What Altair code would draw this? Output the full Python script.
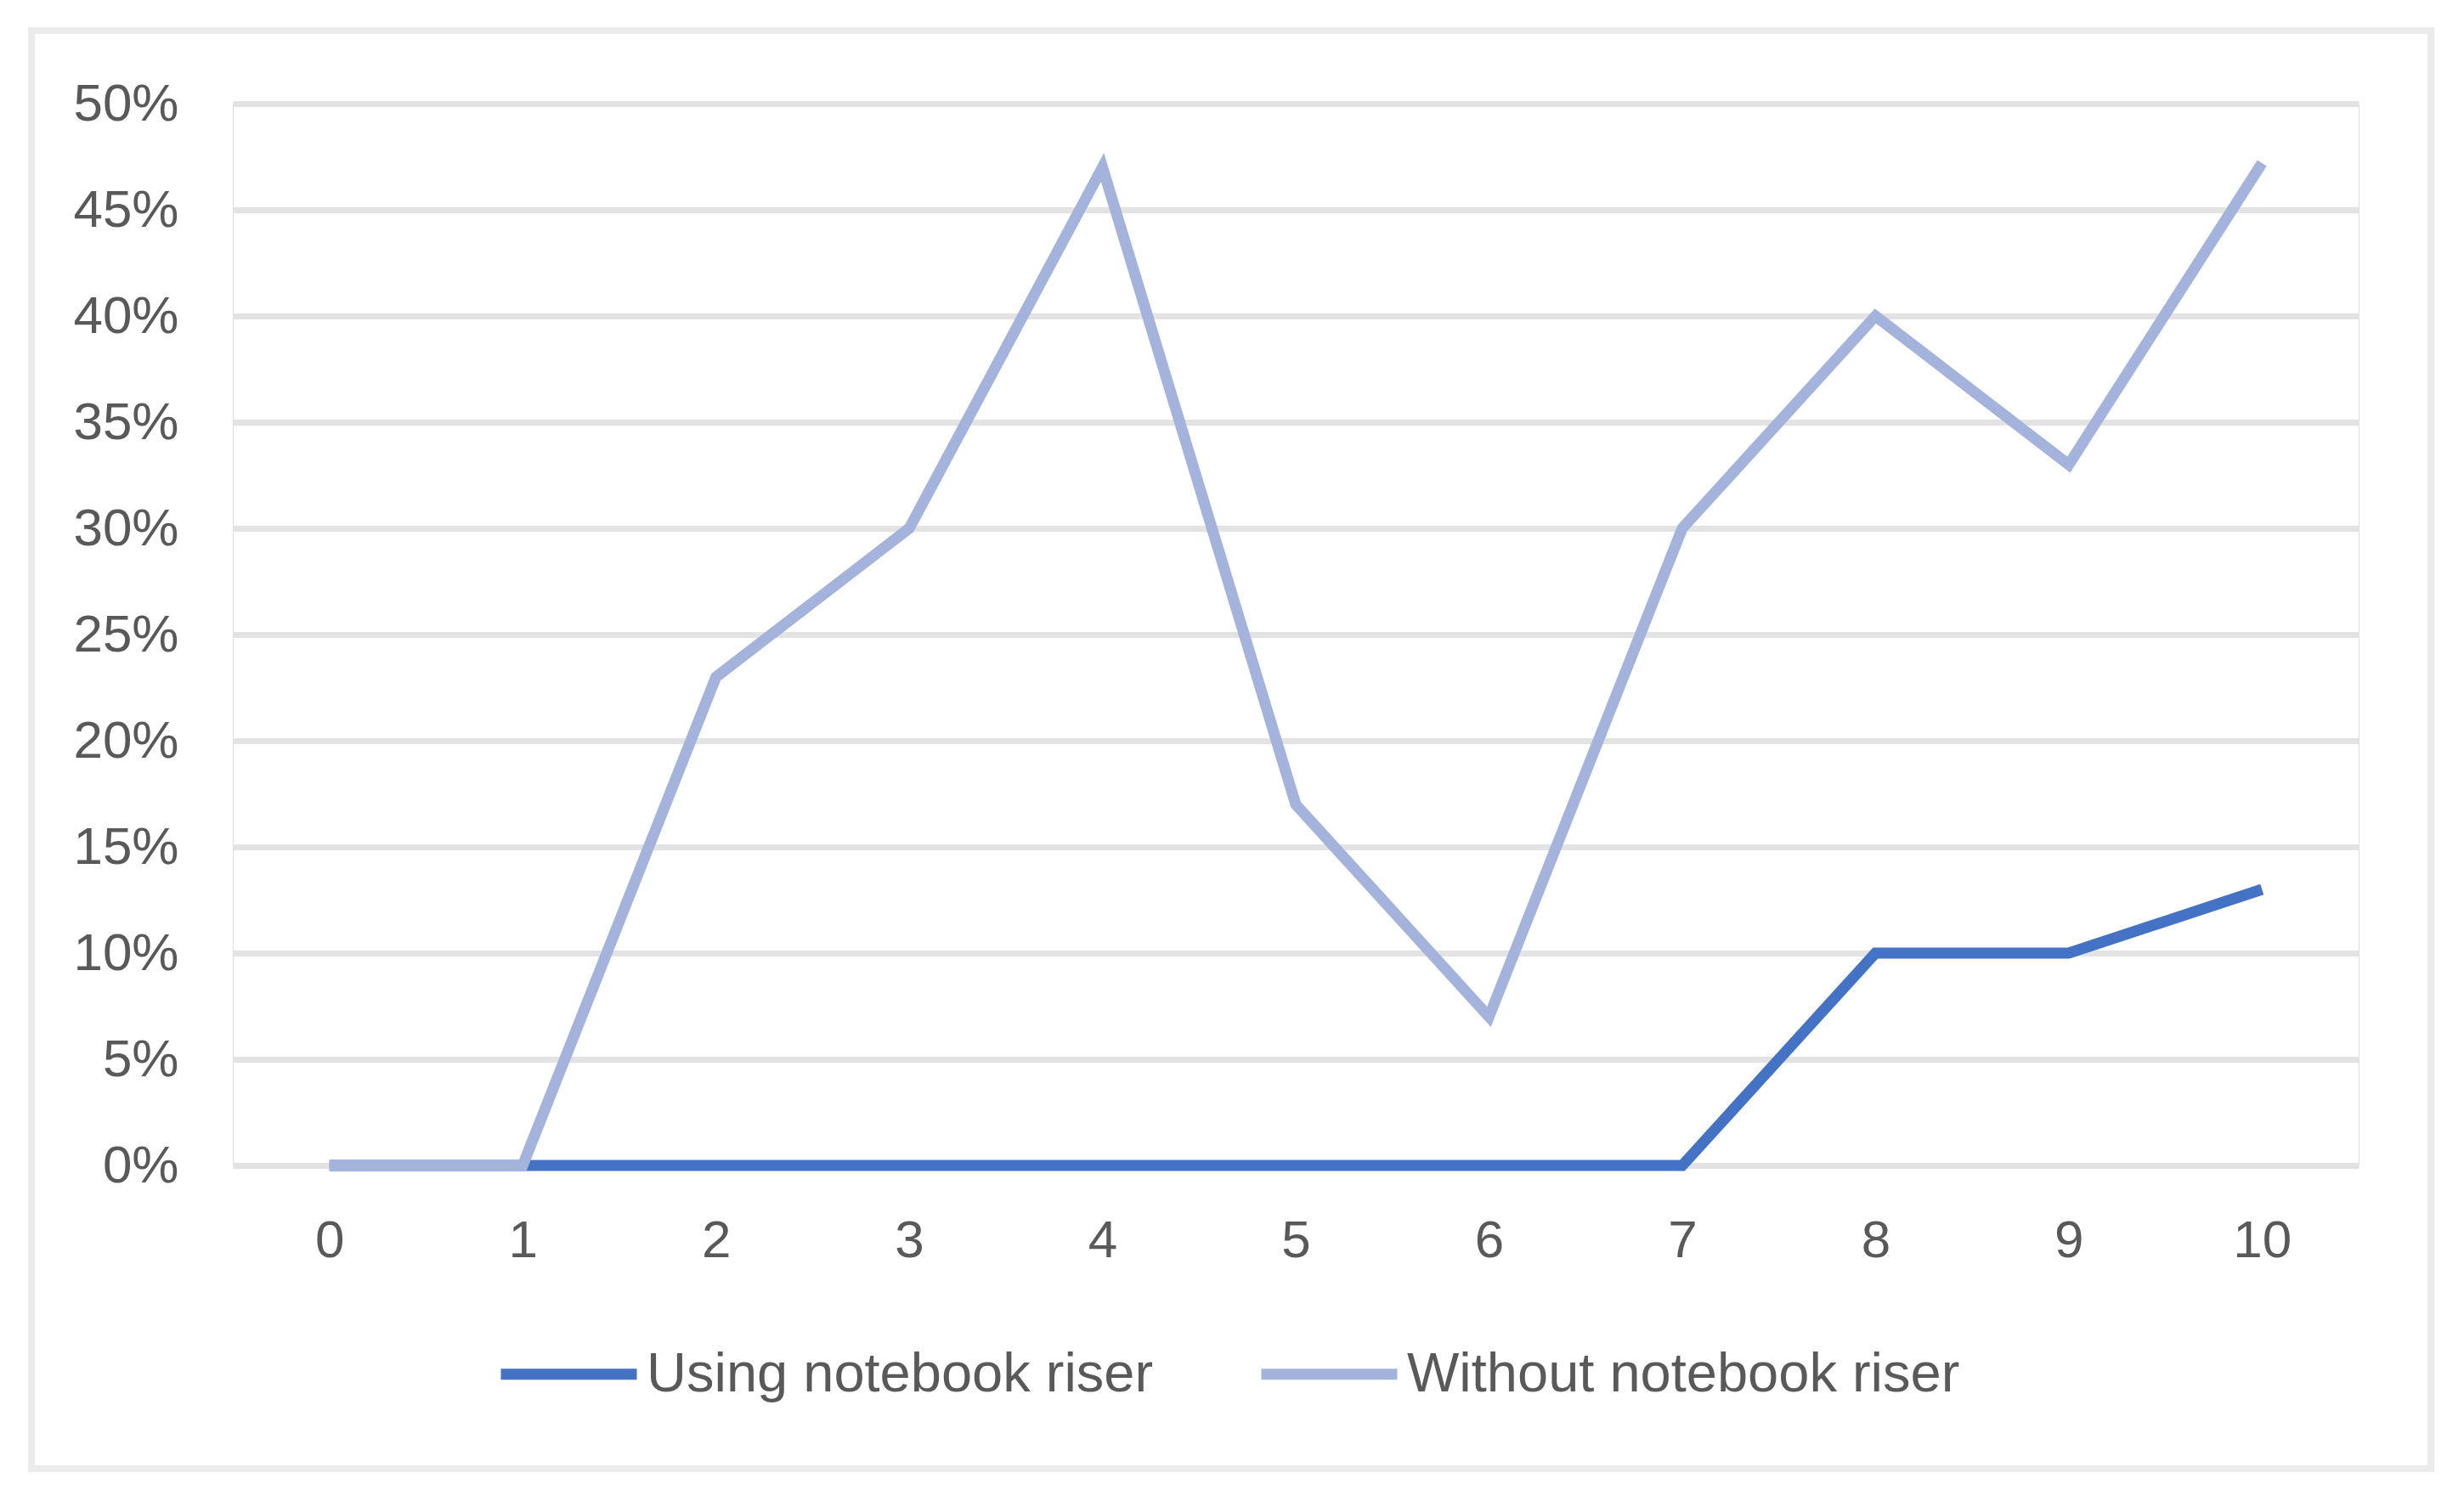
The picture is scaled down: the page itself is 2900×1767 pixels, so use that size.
import altair as alt
import pandas as pd

# ---- data ----
categories = [0, 1, 2, 3, 4, 5, 6, 7, 8, 9, 10]
using_riser = [0.0, 0.0, 0.0, 0.0, 0.0, 0.0, 0.0, 0.0, 0.10, 0.10, 0.13]
without_riser = [0.0, 0.0, 0.23, 0.30, 0.47, 0.17, 0.07, 0.30, 0.40, 0.33, 0.472]
series_names = ["Using notebook riser", "Without notebook riser"]
series_colors = ["#4472C4", "#A3B3DC"]
y_ticks = [0, 0.05, 0.10, 0.15, 0.20, 0.25, 0.30, 0.35, 0.40, 0.45, 0.50]

rows = []
for name, vals in zip(series_names, [using_riser, without_riser]):
    for c, v in zip(categories, vals):
        rows.append({"cat": c, "series": name, "value": v})
df = pd.DataFrame(rows)

FONT = "Liberation Sans"
TXT = "#595959"
W, H = 2502, 1250

lines = alt.Chart(df).mark_line(strokeWidth=13, strokeCap="butt", strokeJoin="miter").encode(
    x=alt.X("cat:O", sort=categories,
            axis=alt.Axis(title=None, labelAngle=0, ticks=False, domain=False, grid=False,
                          labelFontSize=62, labelFont=FONT, labelColor=TXT, labelPadding=58)),
    y=alt.Y("value:Q", scale=alt.Scale(domain=[0, 0.5], nice=False),
            axis=alt.Axis(title=None, values=y_ticks, format=".0%", ticks=False, domain=False,
                          grid=True, gridColor="#E3E3E3", gridWidth=7,
                          labelFontSize=62, labelFont=FONT, labelColor=TXT, labelPadding=64)),
    color=alt.Color("series:N", sort=series_names,
                    scale=alt.Scale(domain=series_names, range=series_colors),
                    legend=alt.Legend(title=None, orient="none", direction="horizontal",
                                      legendX=309, legendY=1409,
                                      symbolType="stroke", symbolSize=25600,
                                      symbolStrokeWidth=13, labelOffset=5,
                                      columnPadding=100,
                                      labelFontSize=65, labelFont=FONT, labelColor=TXT,
                                      labelLimit=1000)),
)

frame = alt.Chart(pd.DataFrame({"a": [0]})).mark_rect(
    filled=False, stroke="#EBEBEB", strokeWidth=8
).encode(
    x=alt.value(-237), x2=alt.value(2587), y=alt.value(-86), y2=alt.value(1607)
)

chart = alt.layer(frame, lines).properties(
    width=W, height=H,
    autosize=alt.AutoSizeParams(type="none"),
    padding={"left": 266, "top": 114, "right": 116, "bottom": 387},
).configure_view(strokeWidth=0, stroke="transparent").configure(background="white")

chart.save("out.html", embed_options={"renderer": "svg", "actions": False})
